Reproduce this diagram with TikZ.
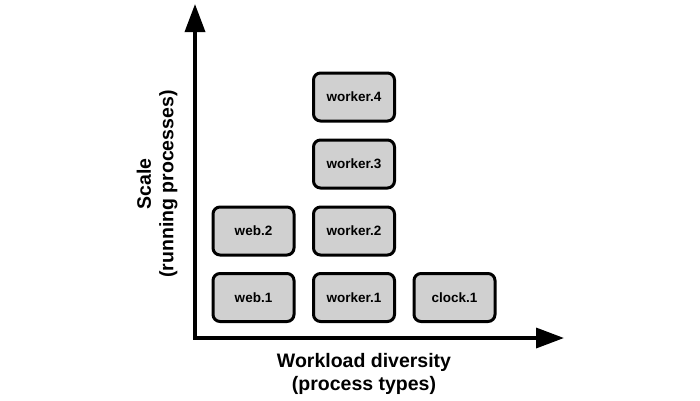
\documentclass[tikz,border=0pt]{standalone}
\usepackage{fontspec}
\setmainfont{Liberation Sans}
\usetikzlibrary{arrows.meta}
\begin{document}
\begin{tikzpicture}[x=1pt,y=-1pt,
  proc/.style={draw=black,line width=3pt,fill={rgb,255:red,208;green,208;blue,208},rounded corners=7pt,minimum width=81pt,minimum height=48pt,inner sep=0pt,font=\fontsize{13.5}{15}\selectfont\bfseries},
  axis/.style={line width=3.5pt,-{Triangle[length=28pt,width=20pt]}},
  lbl/.style={align=center,font=\fontsize{19.5}{22.5}\selectfont\bfseries}]
\useasboundingbox (0,0) rectangle (700,400);
\fill[white] (0,0) rectangle (700,400);
\coordinate (o) at (195,338);
\coordinate (ytip) at (195,4);
\coordinate (xtip) at (564,338);
\draw[axis] ([xshift=-1.75pt]o) -- (xtip);
\draw[axis] ([yshift=-1.75pt]o) -- (ytip);
\node[proc] (web1) at (253.5,297.5) {web.1};
\node[proc] (worker1) at (354,297.5) {worker.1};
\node[proc] (clock1) at (454.5,297.5) {clock.1};
\node[proc] (web2) at (253.5,231) {web.2};
\node[proc] (worker2) at (354,231) {worker.2};
\node[proc] (worker3) at (354,164) {worker.3};
\node[proc] (worker4) at (354,97) {worker.4};
\node[lbl] (xl) at (364,374) {Workload diversity\\(process types)};
\node[lbl,rotate=90] (yl) at (157,184) {Scale\\(running processes)};
\end{tikzpicture}
\end{document}
